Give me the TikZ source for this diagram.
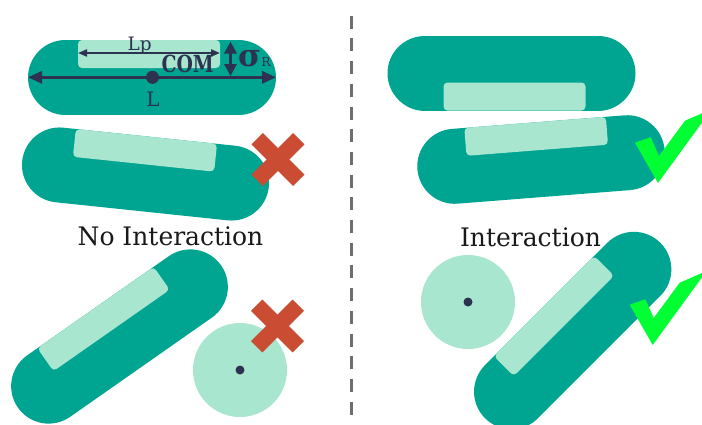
\documentclass[tikz,border=0pt]{standalone}
\usepackage{fontspec}
\setmainfont{DejaVu Serif}
\newfontfamily\comfont[FakeStretch=0.8]{DejaVu Serif}
\newfontfamily\titlefont[FakeStretch=0.98]{DejaVu Serif}
\usetikzlibrary{arrows.meta}
\definecolor{tealc}{HTML}{00A592}
\definecolor{mint}{HTML}{A8E6CF}
\definecolor{navy}{HTML}{2D3250}
\definecolor{xred}{HTML}{C94C33}
\definecolor{cgreen}{HTML}{00FF33}
\definecolor{dgray}{HTML}{6E6E6E}
\tikzset{
  capsule/.style={draw=tealc, line width=75pt, line cap=round},
  patch/.style={fill=mint, rounded corners=4pt},
  bigarrow/.style={draw=navy, line width=3pt, {Triangle[length=14pt,width=12pt]}-{Triangle[length=14pt,width=12pt]}},
  smallarrow/.style={draw=navy, line width=2pt, {Triangle[length=9pt,width=7pt]}-{Triangle[length=9pt,width=7pt]}},
  sigarrow/.style={draw=navy, line width=3.5pt, {Triangle[length=12pt,width=12pt]}-{Triangle[length=12pt,width=12pt]}},
  comdot/.style={circle, fill=navy, inner sep=0pt, minimum size=#1},
  mol/.style={circle, fill=mint, inner sep=0pt, minimum size=94pt},
  xmark/.style={draw=xred, line width=16pt, line cap=butt},
  checkmark/.style={fill=cgreen},
  divider/.style={draw=dgray, line width=3.5pt, dash pattern=on 13pt off 9.7pt},
  label/.style={text=navy, inner sep=0pt},
  title/.style={text=black!90, inner sep=0pt, font=\titlefont\fontsize{25.5}{30}\selectfont}
}
\newcommand\bact[3]{%
  \begin{scope}[shift={(#1,#2)}, rotate=#3]
    \draw[capsule] (-86.5,0) -- (86.5,0);
    \fill[patch] (-74,-37.5) rectangle (68,-9.5);
  \end{scope}}
\newcommand\crossat[2]{%
  \begin{scope}[shift={(#1,#2)}]
    \draw[xmark] (-20.8,-20.8) -- (20.8,20.8);
    \draw[xmark] (-20.8,20.8) -- (20.8,-20.8);
  \end{scope}}
\newcommand\checkat[2]{%
  \begin{scope}[shift={(#1,#2)}]
    \fill[checkmark] (0,0) -- (-23,-40.3) -- (-7.3,-45.7) -- (1,-27) -- (27,-62.3) -- (53.8,-73.9) -- cycle;
  \end{scope}}
\begin{document}
\begin{tikzpicture}[x=1pt,y=-1pt]
\useasboundingbox (0,0) rectangle (702,424);
\clip (0,0) rectangle (702,424);
% bacteria
\bact{152}{77.5}{0}
\bact{145.5}{174}{-6}
\bact{119.5}{336.5}{35}
\bact{511.5}{73}{180}
\bact{541}{159.5}{4.5}
\bact{572.7}{330.5}{45}
% molecules
\node[mol] (mola) at (240,370) {};
\node[comdot=9pt] (dota) at (mola.center) {};
\node[mol] (molb) at (468,302) {};
\node[comdot=9pt] (dotb) at (molb.center) {};
% annotations on first bacterium
\coordinate (Lleft) at (28,77.3);
\coordinate (Lright) at (276,77.3);
\draw[bigarrow] (Lleft) -- (Lright);
\node[comdot=13pt] (com) at (152.5,77.3) {};
\coordinate (Lpleft) at (78,53);
\coordinate (Lpright) at (220,53);
\draw[smallarrow] (Lpleft) -- (Lpright);
\coordinate (sigtop) at (230.5,41.5);
\coordinate (sigbot) at (230.5,76);
\draw[sigarrow] (sigtop) -- (sigbot);
\node[label, anchor=base, font=\fontsize{20}{22}\selectfont] (Llab) at (153,106) {L};
\node[label, anchor=base west, font=\fontsize{18.5}{20}\selectfont] (Lplab) at (127.5,50) {Lp};
\node[label, anchor=base, font=\comfont\bfseries\fontsize{23.5}{25}\selectfont] (comlab) at (187.7,72) {COM};
\node[label, anchor=base west, font=\bfseries\fontsize{31}{32}\selectfont] (sig) at (238,66.5) {σ};
\node[label, anchor=base west, font=\fontsize{12.5}{13}\selectfont] (sigR) at (sig.base east) {R};
% titles
\node[title, anchor=base] (noint) at (170.5,245) {No Interaction};
\node[title, anchor=base] (inter) at (530.5,246) {Interaction};
% marks
\crossat{278}{159.5}
\crossat{277.5}{326}
\checkat{658}{183}
\checkat{652.7}{345}
% divider
\coordinate (dtop) at (351.7,15.7);
\coordinate (dbot) at (351.7,415);
\draw[divider] (dtop) -- (dbot);
\end{tikzpicture}
\end{document}
